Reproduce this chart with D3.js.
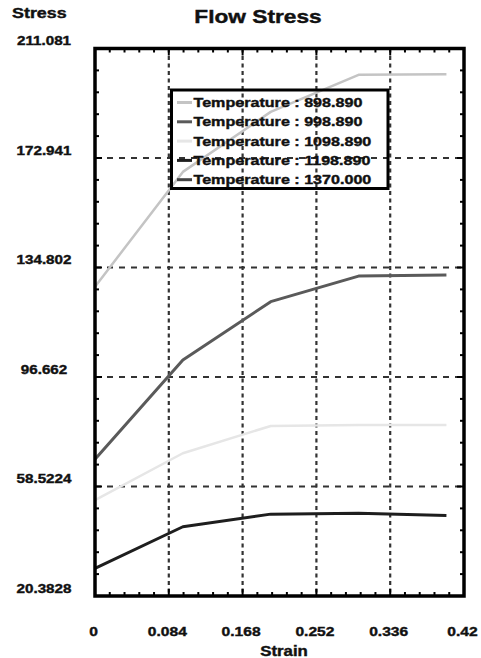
<!DOCTYPE html>
<html><head><meta charset="utf-8">
<script src="https://cdn.jsdelivr.net/npm/d3@7"></script>
<style>html,body{margin:0;padding:0;background:#fff;}svg{display:block;}</style>
</head><body>
<script>
// ---- data ----
const strain = [0, 0.1, 0.2, 0.3, 0.4];
const temperatures = ["898.890", "998.890", "1098.890", "1198.890", "1370.000"];
const s898 = [128.1, 168.1, 189.0, 201.9, 202.1];
const s998 = [68.0, 102.6, 122.9, 131.8, 132.2];
const s1098 = [53.8, 70.1, 79.6, 79.9, 79.9];
const s1198 = [30.0, 44.5, 48.9, 49.2, 48.4];
const s1370 = [];
const seriesColors = ["#c4c4c4", "#5a5a5a", "#e6e6e6", "#1e1e1e", "#444444"];
const xTicks = [0, 0.084, 0.168, 0.252, 0.336, 0.42];
const xTickLabels = ["0", "0.084", "0.168", "0.252", "0.336", "0.42"];
const yTicks = [20.3828, 58.5224, 96.662, 134.802, 172.941, 211.081];
const yTickLabels = ["20.3828", "58.5224", "96.662", "134.802", "172.941", "211.081"];

const W = 481, H = 658;
const L = 95, R = 464, T = 48.5, B = 596;
const svg = d3.select("body").append("svg").attr("width", W).attr("height", H);
const x = d3.scaleLinear().domain([0, 0.42]).range([L, R]);
const y = d3.scaleLinear().domain([20.3828, 211.081]).range([B, T]);
const FONT = "'Liberation Sans', Arial, sans-serif";

function stext(px, py, str, size, anchor, sx) {
  return svg.append("text")
    .attr("transform", `translate(${px},${py}) scale(${sx},1)`)
    .attr("text-anchor", anchor)
    .attr("font-family", FONT).attr("font-weight", "bold")
    .attr("font-size", size).attr("fill", "#111")
    .attr("stroke", "#111").attr("stroke-width", 0.4)
    .text(str);
}

// grid
const grid = svg.append("g");
grid.selectAll("line.vx").data(xTicks.slice(1, -1)).join("line")
  .attr("x1", d => x(d)).attr("x2", d => x(d)).attr("y1", T).attr("y2", B)
  .attr("stroke", "#333").attr("stroke-width", 2.2).attr("stroke-dasharray", "4,3.5");
grid.selectAll("line.hy").data(yTicks.slice(1, -1)).join("line")
  .attr("x1", L).attr("x2", R).attr("y1", d => y(d)).attr("y2", d => y(d))
  .attr("stroke", "#333").attr("stroke-width", 2).attr("stroke-dasharray", "6,6");

// data lines
const allSeries = [s898, s998, s1098, s1198, s1370];
const line = d3.line().x((d, i) => x(strain[i])).y(d => y(d));
allSeries.forEach((s, k) => {
  if (!s.length) return;
  svg.append("path").attr("d", line(s)).attr("fill", "none")
    .attr("stroke", seriesColors[k]).attr("stroke-width", k === 1 || k === 3 ? 3 : 2.5)
    .attr("stroke-linejoin", "round");
});

// ticks (inward, all four sides)
const xMinor = d3.range(0, 26).map(i => i * 0.0168);
const yStep = (211.081 - 20.3828) / 25;
const yMinor = d3.range(0, 26).map(i => 20.3828 + i * yStep);
const tk = svg.append("g").attr("stroke", "#000").attr("stroke-width", 2);
xMinor.forEach((v, i) => {
  const len = i % 5 === 0 ? 7 : 4;
  tk.append("line").attr("x1", x(v)).attr("x2", x(v)).attr("y1", B).attr("y2", B - len);
  tk.append("line").attr("x1", x(v)).attr("x2", x(v)).attr("y1", T).attr("y2", T + len);
});
yMinor.forEach((v, i) => {
  const len = i % 5 === 0 ? 7 : 4;
  tk.append("line").attr("y1", y(v)).attr("y2", y(v)).attr("x1", L).attr("x2", L + len);
  tk.append("line").attr("y1", y(v)).attr("y2", y(v)).attr("x1", R).attr("x2", R - len);
});

// frame
svg.append("rect").attr("x", L).attr("y", T).attr("width", R - L).attr("height", B - T)
  .attr("fill", "none").attr("stroke", "#000").attr("stroke-width", 3.5);

// legend
const lg = svg.append("g");
const lgX = 171.5, lgY = 90, lgW = 216.5, lgH = 98.5, rowY0 = 102.5, rowDy = 19.3;
temperatures.forEach((t, k) => {
  const cy = rowY0 + k * rowDy;
  lg.append("line").attr("x1", 177).attr("x2", 192).attr("y1", cy).attr("y2", cy)
    .attr("stroke", seriesColors[k]).attr("stroke-width", 3);
  stext(193.5, cy + 4.6, "Temperature : " + t, 13, "start", 1.24);
});
lg.append("rect").attr("x", lgX).attr("y", lgY).attr("width", lgW).attr("height", lgH)
  .attr("fill", "none").attr("stroke", "#000").attr("stroke-width", 3);

// axis labels
yTicks.forEach((v, i) => stext(44, y(v) - 3.5, yTickLabels[i], 13, "middle", 1.17));
xTicks.forEach((v, i) => stext(x(v) - 1.5, 636, xTickLabels[i], 13, "middle", 1.2));
stext(258, 23, "Flow Stress", 18, "middle", 1.26);
stext(12, 18, "Stress", 14, "start", 1.28);
stext(284, 656, "Strain", 14, "middle", 1.2);
</script>
</body></html>
